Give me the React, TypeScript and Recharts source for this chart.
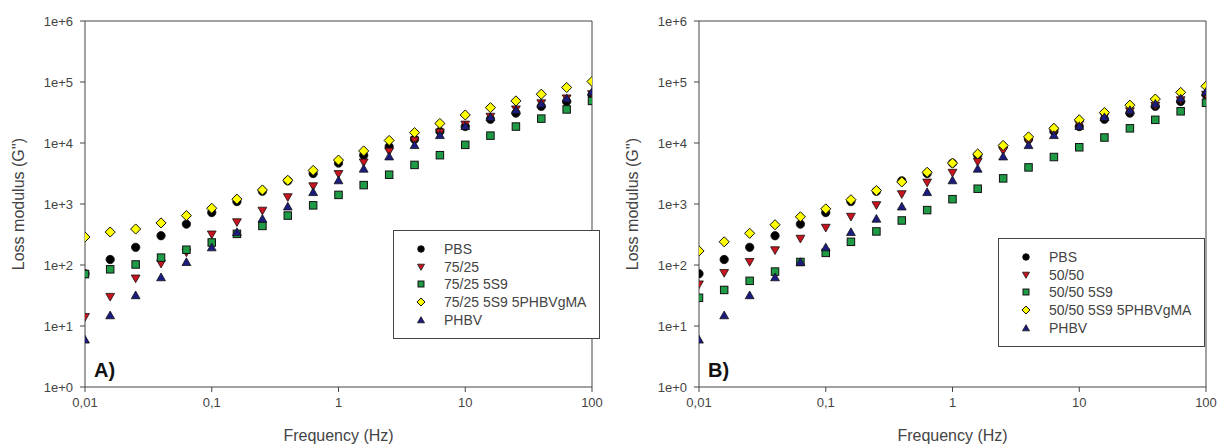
import React from "react"
import {
  ScatterChart,
  Scatter,
  XAxis,
  YAxis,
  ReferenceLine,
  Legend,
  Customized,
} from "recharts"

// frequency sweep, 5 points per decade (Hz)
const freqs = [
  0.01, 0.0158, 0.0251, 0.0398, 0.0631, 0.1, 0.158, 0.251, 0.398, 0.631,
  1, 1.58, 2.51, 3.98, 6.31, 10, 15.8, 25.1, 39.8, 63.1, 100,
]

// loss modulus G'' values
const pbs = [72, 123, 195, 302, 468, 724, 1096, 1620, 2400, 3160, 4680, 6310, 8710, 11500, 15500, 18600, 24500, 30900, 39800, 47900, 61700]
const phbv = [6, 15, 32, 63, 112, 195, 347, 575, 912, 1570, 2450, 3800, 6030, 9250, 13500, 19000, 26600, 34700, 44200, 54000, 69200]

const blend75 = [14, 30, 60, 105, 160, 316, 501, 776, 1290, 1950, 3090, 4790, 7240, 11000, 14800, 20000, 26900, 35500, 44700, 53700, 63100]
const blend75s9 = [71, 85, 102, 132, 178, 234, 324, 437, 646, 950, 1410, 2040, 3020, 4370, 6310, 9330, 13200, 18600, 25100, 35500, 49000]
const blend75gma = [288, 347, 389, 490, 646, 851, 1200, 1700, 2450, 3550, 5250, 7410, 11000, 14800, 20900, 28800, 38000, 49000, 63100, 81300, 102000]

const blend50 = [48, 74, 112, 174, 269, 407, 617, 955, 1445, 2240, 3240, 4900, 7410, 10500, 14800, 20000, 26900, 33100, 40700, 50100, 61700]
const blend50s9 = [29, 39, 55, 78, 112, 158, 240, 355, 537, 794, 1200, 1780, 2630, 3980, 5890, 8510, 12300, 17400, 24000, 33100, 45700]
const blend50gma = [170, 240, 331, 457, 617, 832, 1175, 1660, 2300, 3310, 4680, 6610, 9120, 12600, 17400, 24000, 31600, 41700, 52500, 67600, 85100]

const xTicks = [0.01, 0.1, 1, 10, 100]
const yTicks = [1, 10, 100, 1000, 10000, 100000, 1000000]

const axisColor = "#444"
const font = "Arial, 'Liberation Sans', sans-serif"

const toPoints = (ys: number[]) => freqs.map((f, i) => ({ x: f, y: ys[i] }))

type Kind = "circle" | "down" | "square" | "diamond" | "up"

const markerColor: Record<Kind, string> = {
  circle: "#000000",
  down: "#c8141e",
  square: "#1f9a45",
  diamond: "#ffff00",
  up: "#1c1c80",
}

const Marker = ({ kind, cx, cy, s }: { kind: Kind; cx: number; cy: number; s: number }) => {
  const fill = markerColor[kind]
  const stroke = "#111"
  if (kind === "circle") return <circle cx={cx} cy={cy} r={s * 0.95} fill={fill} stroke={stroke} strokeWidth={0.8} />
  if (kind === "square")
    return <rect x={cx - s * 0.85} y={cy - s * 0.85} width={s * 1.7} height={s * 1.7} fill={fill} stroke={stroke} strokeWidth={1} />
  if (kind === "diamond")
    return (
      <polygon
        points={`${cx},${cy - s * 1.15} ${cx + s * 1.15},${cy} ${cx},${cy + s * 1.15} ${cx - s * 1.15},${cy}`}
        fill={fill}
        stroke={stroke}
        strokeWidth={1}
      />
    )
  if (kind === "down")
    return (
      <polygon
        points={`${cx - s},${cy - s * 0.8} ${cx + s},${cy - s * 0.8} ${cx},${cy + s * 0.95}`}
        fill={fill}
        stroke={stroke}
        strokeWidth={0.8}
      />
    )
  return (
    <polygon
      points={`${cx - s},${cy + s * 0.8} ${cx + s},${cy + s * 0.8} ${cx},${cy - s * 0.95}`}
      fill={fill}
      stroke={stroke}
      strokeWidth={0.8}
    />
  )
}

const shapeOf = (kind: Kind) => (props: any) => <Marker kind={kind} cx={props.cx} cy={props.cy} s={4.4} />

const LegendBox = ({ items }: { items: { name: string; kind: Kind }[] }) => (
  <div
    style={{
      border: `1px solid ${axisColor}`,
      background: "#fff",
      boxSizing: "border-box",
      width: 207,
      padding: "9px 0 9px 0",
      fontFamily: font,
      fontSize: 14,
      color: "#444",
    }}
  >
    {items.map((it) => (
      <div key={it.name} style={{ display: "flex", alignItems: "center", height: 17.8 }}>
        <svg width={50} height={16} style={{ flex: "none" }}>
          <Marker kind={it.kind} cx={27} cy={8} s={3.5} />
        </svg>
        <span style={{ whiteSpace: "nowrap" }}>{it.name}</span>
      </div>
    ))}
  </div>
)

interface PanelProps {
  tag: string
  marginLeft: number
  marginRight: number
  series: { name: string; kind: Kind; values: number[] }[]
  legendLeft: number
  legendTop: number
}

const Panel = ({ tag, marginLeft, marginRight, series, legendLeft, legendTop }: PanelProps) => (
  <ScatterChart
    width={609}
    height={445}
    margin={{ top: 21, right: marginRight, bottom: 28, left: marginLeft }}
  >
    <XAxis
      type="number"
      dataKey="x"
      scale="log"
      domain={[0.01, 100]}
      ticks={xTicks}
      allowDataOverflow
      height={30}
      tickSize={5}
      tickMargin={6}
      stroke={axisColor}
      tick={{ fill: "#444", fontSize: 13, fontFamily: font }}
      tickFormatter={(v) => String(v).replace(".", ",")}
      label={{ value: "Frequency (Hz)", position: "bottom", offset: 13, fill: "#444", fontSize: 16, fontFamily: font }}
    />
    <YAxis
      type="number"
      dataKey="y"
      scale="log"
      domain={[1, 1000000]}
      ticks={yTicks}
      allowDataOverflow
      width={75}
      tickSize={5}
      tickMargin={7}
      stroke={axisColor}
      tick={{ fill: "#444", fontSize: 13, fontFamily: font }}
      tickFormatter={(v) => `1e+${Math.round(Math.log10(v))}`}
      label={{
        value: "Loss modulus (G'')",
        angle: -90,
        position: "insideLeft",
        offset: 8,
        fill: "#444",
        fontSize: 16,
        fontFamily: font,
        style: { textAnchor: "middle" },
      }}
    />
    <ReferenceLine y={1000000} stroke={axisColor} strokeWidth={1} />
    <ReferenceLine x={100} stroke={axisColor} strokeWidth={1} />
    {series.map((s) => (
      <Scatter
        key={s.name}
        name={s.name}
        data={toPoints(s.values)}
        shape={shapeOf(s.kind)}
        isAnimationActive={false}
      />
    ))}
    <Legend
      layout="vertical"
      align="center"
      verticalAlign="middle"
      wrapperStyle={{ position: "absolute", left: legendLeft, top: legendTop, width: 207 }}
      content={() => <LegendBox items={series.map((s) => ({ name: s.name, kind: s.kind }))} />}
    />
    <Customized
      component={() => (
        <text x={marginLeft + 75 + 9} y={377} fontFamily={font} fontWeight="bold" fontSize={20} fill="#111">
          {tag}
        </text>
      )}
    />
  </ScatterChart>
)

export default function App() {
  return (
    <div style={{ position: "absolute", left: 0, top: 0, width: 1218, height: 445, background: "#fff", display: "flex" }}>
      <Panel
        tag="A)"
        marginLeft={10}
        marginRight={17}
        legendLeft={393}
        legendTop={230}
        series={[
          { name: "PBS", kind: "circle", values: pbs },
          { name: "75/25", kind: "down", values: blend75 },
          { name: "75/25 5S9", kind: "square", values: blend75s9 },
          { name: "75/25 5S9 5PHBVgMA", kind: "diamond", values: blend75gma },
          { name: "PHBV", kind: "up", values: phbv },
        ]}
      />
      <Panel
        tag="B)"
        marginLeft={15}
        marginRight={12}
        legendLeft={389}
        legendTop={238}
        series={[
          { name: "PBS", kind: "circle", values: pbs },
          { name: "50/50", kind: "down", values: blend50 },
          { name: "50/50 5S9", kind: "square", values: blend50s9 },
          { name: "50/50 5S9 5PHBVgMA", kind: "diamond", values: blend50gma },
          { name: "PHBV", kind: "up", values: phbv },
        ]}
      />
    </div>
  )
}
